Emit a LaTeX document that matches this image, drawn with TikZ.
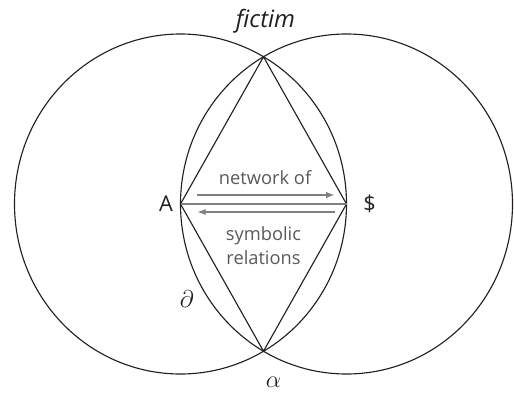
\documentclass[tikz,border=0pt]{standalone}
\usepackage{fontspec}
\setmainfont{Open Sans}
\usepackage{tikz}
\usetikzlibrary{arrows.meta,positioning,calc}
\definecolor{inkblack}{HTML}{231F20}
\definecolor{midgray}{HTML}{58595B}
\definecolor{relgray}{HTML}{7D7F82}
\tikzset{
  ring/.style={
    draw=inkblack,
    line width=0.8pt
  },
  kite/.style={
    draw=inkblack,
    line width=0.8pt,
    line join=miter
  },
  pole/.style={
    text=inkblack,
    font=\fontsize{15.5}{17}\selectfont,
    inner sep=1pt
  },
  relnote/.style={
    text=midgray,
    font=\fontsize{13}{17}\selectfont,
    align=center,
    inner sep=1pt
  },
  relarrow/.style={-{Latex[length=2.2mm,width=1.6mm]},line width=1.3pt,draw=relgray},
  relline/.style={line width=2pt,draw=relgray}
}

\begin{document}
\begin{tikzpicture}[node distance=0.2cm]
    \useasboundingbox (0,0) rectangle (12.85,9.8);
    \coordinate (A) at (4.5125,4.7);
    \coordinate (S) at (8.6625,4.7);
    \coordinate (top) at (6.5875,8.3806);
    \coordinate (bot) at (6.5875,1.0194);
    \coordinate (mid) at ($(A)!0.5!(S)$);

    \draw[ring] (A) ellipse [x radius=4.15cm, y radius=4.25cm];
    \draw[ring] (S) ellipse [x radius=4.15cm, y radius=4.25cm];
    \draw[kite] (A) -- (top) -- (S) -- (bot) -- cycle;

    \draw[relline] (A) -- (S);
    \draw[relarrow] ([shift={(0.41,0.225)}]A) -- ([shift={(-0.29,0.225)}]S);
    \draw[relarrow] ([shift={(-0.29,-0.2)}]S) -- ([shift={(0.41,-0.2)}]A);

    \node[pole,left=0.15cm of A] (Alabel) {A};
    \node[pole,right=0.38cm of S] (Slabel) {\$};
    \node[pole,font=\fontsize{17}{19}\selectfont\itshape] (fictim) at ($(top)+(0.05,0.88)$) {fictim};
    \node[pole,font=\fontsize{17}{19}\selectfont] (partial) at ($(A)+(0.16,-2.375)$) {$\partial$};
    \node[pole,font=\fontsize{17}{19}\selectfont] (alpha) at ($(bot)+(0.25,-0.78)$) {$\alpha$};

    \node[relnote] (netof) at ($(mid)+(0.04,0.65)$) {network of};
    \node[relnote] (symrel) at ($(mid)+(0,-1.05)$) {symbolic\\relations};
  \end{tikzpicture}
\end{document}
